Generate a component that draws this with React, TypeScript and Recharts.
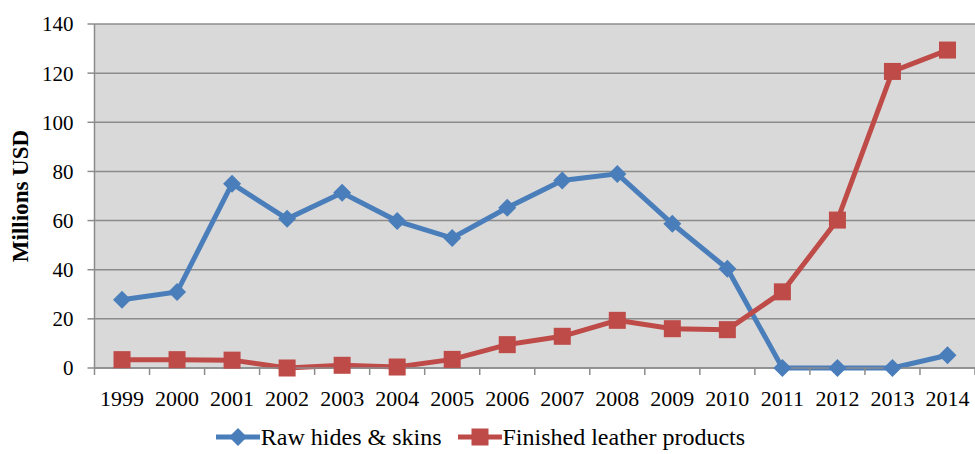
import React from "react";
import { LineChart, Line, XAxis, YAxis, CartesianGrid, Legend } from "recharts";

const years = [1999, 2000, 2001, 2002, 2003, 2004, 2005, 2006, 2007, 2008, 2009, 2010, 2011, 2012, 2013, 2014];
const rawHides = [27.8, 30.9, 75.0, 60.7, 71.3, 59.8, 52.9, 65.2, 76.3, 79.0, 58.7, 40.4, 0, 0, 0, 5.2];
const finishedLeather = [3.4, 3.4, 3.2, 0, 1.1, 0.4, 3.5, 9.5, 12.9, 19.4, 16.0, 15.6, 31.0, 60.2, 120.7, 129.4];
const yTicks = [0, 20, 40, 60, 80, 100, 120, 140];
const seriesNames = ["Raw hides & skins", "Finished leather products"];

const BLUE = "#4a7ebb";
const RED = "#be4b48";
const FONT = "Liberation Serif, Tinos, Times New Roman, DejaVu Serif, serif";

const data = years.map((y, i) => ({ year: y, raw: rawHides[i], fin: finishedLeather[i] }));
const boundaries = [...years.map((y) => y - 0.5), years[years.length - 1] + 0.5];

const Diamond = (props: any) => {
  const { cx, cy } = props;
  if (cx == null || cy == null) return null;
  const r = 9;
  return <polygon points={`${cx},${cy - r} ${cx + r},${cy} ${cx},${cy + r} ${cx - r},${cy}`} fill={BLUE} />;
};

const Square = (props: any) => {
  const { cx, cy } = props;
  if (cx == null || cy == null) return null;
  const s = 8.5;
  return <rect x={cx - s} y={cy - s} width={2 * s} height={2 * s} fill={RED} />;
};

const EmptyTick = () => <g />;

const LegendContent = () => (
  <div style={{ display: "flex", justifyContent: "center", alignItems: "center", height: 34, fontFamily: FONT, fontSize: 24, color: "#000", paddingRight: 14 }}>
    <div style={{ display: "flex", alignItems: "center", marginRight: 16 }}>
      <svg width={44} height={20} style={{ marginRight: 1 }}>
        <line x1={0} y1={10} x2={44} y2={10} stroke={BLUE} strokeWidth={5} />
        <polygon points="22,1 31,10 22,19 13,10" fill={BLUE} />
      </svg>
      <span>{seriesNames[0]}</span>
    </div>
    <div style={{ display: "flex", alignItems: "center" }}>
      <svg width={44} height={20} style={{ marginRight: 1 }}>
        <line x1={0} y1={10} x2={44} y2={10} stroke={RED} strokeWidth={5} />
        <rect x={13.5} y={1.5} width={17} height={17} fill={RED} />
      </svg>
      <span>{seriesNames[1]}</span>
    </div>
  </div>
);

export default function App() {
  return (
    <div style={{ position: "absolute", left: 0, top: 0, background: "#fff", fontFamily: FONT }}>
      <LineChart width={975} height={454} data={data} margin={{ top: 24, right: 0, bottom: 0, left: 0 }} style={{ fontFamily: FONT }}>
        <CartesianGrid vertical={false} fill="#d9d9d9" stroke="#8c8c8c" strokeWidth={1.5} />
        <XAxis
          xAxisId="a_marks"
          dataKey="year"
          type="number"
          domain={[years[0] - 0.5, years[years.length - 1] + 0.5]}
          ticks={boundaries}
          interval={0}
          tick={<EmptyTick />}
          tickSize={7}
          height={1}
          axisLine={{ stroke: "#8c8c8c", strokeWidth: 1.5 }}
          tickLine={{ stroke: "#8c8c8c", strokeWidth: 1.5 }}
        />
        <XAxis
          xAxisId="b_main"
          dataKey="year"
          type="number"
          domain={[years[0] - 0.5, years[years.length - 1] + 0.5]}
          ticks={years}
          interval={0}
          tickLine={false}
          axisLine={false}
          tickSize={6}
          tickMargin={15}
          height={51}
          tick={{ fill: "#000", fontSize: 22, fontFamily: FONT }}
        />
        <YAxis
          domain={[0, 140]}
          ticks={yTicks}
          width={94.5}
          tickSize={7}
          tickMargin={14}
          interval={0}
          axisLine={{ stroke: "#8c8c8c", strokeWidth: 1.5 }}
          tickLine={{ stroke: "#8c8c8c", strokeWidth: 1.5 }}
          tick={{ fill: "#000", fontSize: 21, fontFamily: FONT }}
          label={{ value: "Millions USD", angle: -90, position: "insideLeft", offset: 20, style: { fill: "#000", fontSize: 23, fontWeight: "bold", fontFamily: FONT, textAnchor: "middle" } }}
        />
        <Legend verticalAlign="bottom" content={<LegendContent />} />
        <Line xAxisId="b_main" dataKey="raw" name={seriesNames[0]} stroke={BLUE} strokeWidth={5} dot={<Diamond />} activeDot={false} isAnimationActive={false} />
        <Line xAxisId="b_main" dataKey="fin" name={seriesNames[1]} stroke={RED} strokeWidth={5} dot={<Square />} activeDot={false} isAnimationActive={false} />
      </LineChart>
    </div>
  );
}
